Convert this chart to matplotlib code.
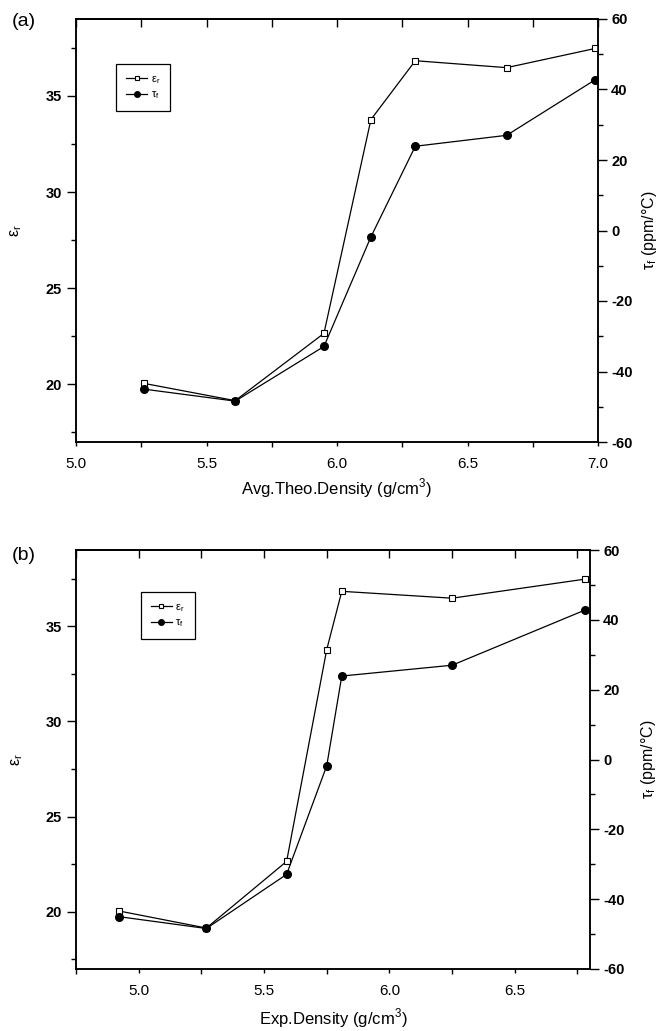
import numpy as np
import matplotlib
matplotlib.use('Agg')
import matplotlib.pyplot as plt
from matplotlib.ticker import MultipleLocator
from matplotlib.lines import Line2D

# ─────────────────────────────────────────
# DATA
# ─────────────────────────────────────────

THEO_DENSITY = [5.26, 5.61, 5.95, 6.13, 6.30, 6.65, 6.99]
EXP_DENSITY = [4.92, 5.27, 5.59, 5.75, 5.81, 6.25, 6.78]
EPS_R = [20.05, 19.15, 22.65, 33.77, 36.83, 36.47, 37.47]
TAU_F = [-45.0, -48.4, -32.9, -1.8, 23.9, 27.0, 42.8]

EPS_TICKS = [20, 25, 30, 35]
TAU_TICKS = [-60, -40, -20, 0, 20, 40, 60]

FIG_W, FIG_H = 662, 1031

plt.rcParams['font.family'] = ['Liberation Sans', 'DejaVu Sans']
plt.rcParams['mathtext.fontset'] = 'custom'
plt.rcParams['mathtext.rm'] = 'Liberation Sans'
plt.rcParams['axes.linewidth'] = 1.1
plt.rcParams['axes.unicode_minus'] = False


def px_rect(left, top, right, bottom):
    return [left / FIG_W, 1 - bottom / FIG_H, (right - left) / FIG_W, (bottom - top) / FIG_H]


def draw_panel(fig, rect, x, xlim, xlabel, tag, legend_xy, xlabel_y, ylabel_r_x):
    ax = fig.add_axes(rect)
    ax2 = ax.twinx()

    ax.plot(x, EPS_R, color='black', lw=0.9, marker='s', ms=5,
            mfc='white', mec='black', mew=0.8, zorder=3)
    ax2.plot(x, TAU_F, color='black', lw=0.9, marker='o', ms=5.5,
             mfc='black', mec='black', zorder=3)

    ax.set_xlim(*xlim)
    ax.xaxis.set_major_locator(MultipleLocator(0.5))
    ax.xaxis.set_minor_locator(MultipleLocator(0.25))
    ax.xaxis.set_major_formatter('{x:.1f}')

    ax.set_yticks(EPS_TICKS, labels=[str(v) for v in EPS_TICKS], fontweight='bold')
    ax.yaxis.set_minor_locator(MultipleLocator(2.5))
    ax2.set_yticks(TAU_TICKS, labels=[str(v) for v in TAU_TICKS], fontweight='bold')
    ax2.yaxis.set_minor_locator(MultipleLocator(10))
    ax.set_ylim(17, 39)
    ax2.set_ylim(-60, 60)

    ax.tick_params(axis='x', which='major', direction='out', length=3, width=1,
                   pad=7.5, labelsize=11)
    ax.tick_params(axis='x', which='minor', direction='out', length=3.5, width=1)
    ax.tick_params(axis='y', which='major', direction='out', length=6.5, width=1,
                   pad=3.5, labelsize=10.5)
    ax.tick_params(axis='y', which='minor', direction='out', length=3.5, width=1)
    ax2.tick_params(axis='y', which='major', direction='out', length=6.5, width=1,
                    pad=3, labelsize=10.5)
    ax2.tick_params(axis='y', which='minor', direction='out', length=3.5, width=1)

    # top axis: inward ticks, no labels
    top = ax.secondary_xaxis('top')
    top.xaxis.set_major_locator(MultipleLocator(0.25))
    top.tick_params(axis='x', which='major', direction='in', length=6, width=1,
                    labeltop=False)
    top.xaxis.set_minor_locator(plt.NullLocator())

    ax.set_xlabel(xlabel, fontsize=12)
    ax.xaxis.set_label_coords(0.5, xlabel_y)
    ax.set_ylabel('ε$_\\mathregular{r}$', fontsize=11.5)
    ax.yaxis.set_label_coords(-0.10, 0.5)
    ax2.set_ylabel('τ$_\\mathregular{f}$ (ppm/°C)', fontsize=11.5)
    ax2.yaxis.set_label_coords(ylabel_r_x, 0.5)

    handles = [
        Line2D([], [], color='black', lw=0.9, marker='s', ms=3.5, mfc='white', mec='black', mew=0.8),
        Line2D([], [], color='black', lw=0.9, marker='o', ms=4, mfc='black', mec='black'),
    ]
    leg = ax2.legend(handles, ['ε$_\\mathregular{r}$', 'τ$_\\mathregular{f}$'],
                     loc='upper left', bbox_to_anchor=legend_xy, borderaxespad=0,
                     fontsize=8, frameon=True, fancybox=False, framealpha=1,
                     edgecolor='black', handlelength=1.9, handletextpad=0.3,
                     borderpad=0.9, labelspacing=0.35)
    leg.get_frame().set_linewidth(0.9)

    fig.text(12 / FIG_W, tag[1], tag[0], fontsize=14, ha='left', va='center')
    return ax, ax2


fig = plt.figure(figsize=(FIG_W / 100, FIG_H / 100), dpi=100)

draw_panel(fig, px_rect(76, 19, 598, 442), THEO_DENSITY, (5.0, 7.0),
           'Avg.Theo.Density (g/cm$^\\mathregular{3}$)', ('(a)', 1 - 22 / FIG_H),
           (0.077, 0.894), -0.082, 1.080)
draw_panel(fig, px_rect(76, 550, 590, 969), EXP_DENSITY, (4.75, 6.8),
           'Exp.Density (g/cm$^\\mathregular{3}$)', ('(b)', 1 - 555 / FIG_H),
           (0.126, 0.90), -0.090, 1.095)

fig.savefig('out.png', dpi=100, facecolor='white')
